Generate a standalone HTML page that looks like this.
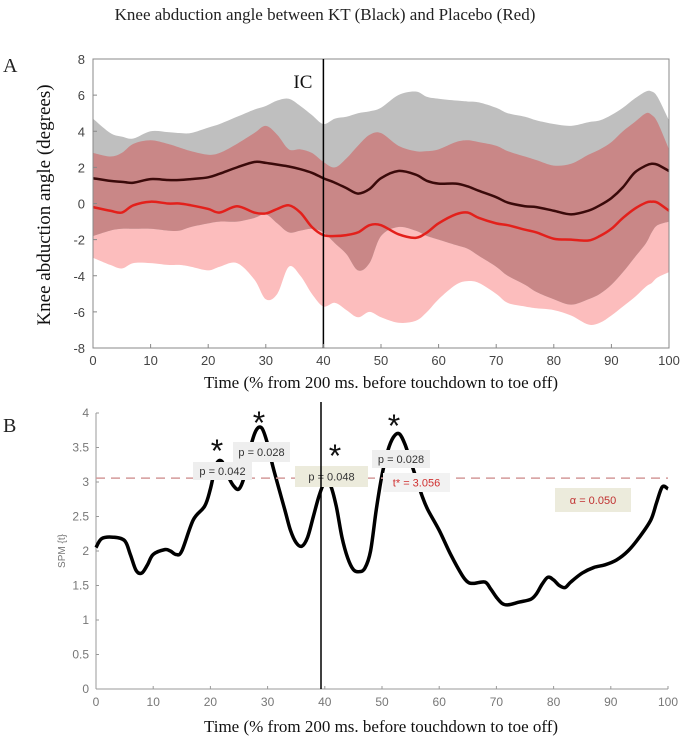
<!DOCTYPE html>
<html><head><meta charset="utf-8"><style>
body{margin:0;background:#fff;}
svg{display:block;font-family:"Liberation Sans",sans-serif;}
.serif{font-family:"Liberation Serif",serif;}
</style></head><body>
<svg id="c" width="685" height="743" viewBox="0 0 685 743">
<text class="serif" x="325" y="20" font-size="17" text-anchor="middle" fill="#222">Knee abduction angle between KT (Black) and Placebo (Red)</text>
<text class="serif" x="3" y="72" font-size="20" fill="#222">A</text>
<text class="serif" x="3" y="432" font-size="20" fill="#222">B</text>
<g id="ga"></g><g id="gb"></g>
</svg>
<script>
// Panel A data
const aX=[0,3,5,7,10,13,15,17,20,22,25,28,30,32,34,36,38,40,42,44,46,48,50,53,56,58,60,63,65,67,70,72,75,77,80,83,86,88,90,92,94,96,97,98,100];
const kMean=[1.4,1.25,1.2,1.15,1.35,1.3,1.3,1.35,1.45,1.65,2.0,2.3,2.25,2.15,2.05,1.9,1.7,1.4,1.15,0.85,0.55,0.8,1.4,1.8,1.6,1.25,1.1,1.1,0.95,0.7,0.35,0.05,-0.15,-0.2,-0.4,-0.6,-0.4,-0.1,0.3,0.9,1.7,2.1,2.2,2.15,1.8];
const pMean=[-0.2,-0.4,-0.5,-0.1,0.1,0,0,-0.1,-0.3,-0.5,-0.15,-0.5,-0.55,-0.3,-0.1,-0.5,-1.3,-1.75,-1.8,-1.75,-1.6,-1.2,-1.2,-1.7,-1.9,-1.6,-1.1,-0.6,-0.5,-0.8,-1.1,-1.2,-1.45,-1.6,-1.95,-2.0,-2.05,-1.8,-1.4,-0.8,-0.3,0.05,0.1,0.05,-0.4];
const kUpper=[4.7,3.9,3.7,3.6,4.0,3.95,3.9,3.9,4.2,4.4,4.8,5.2,5.4,5.7,5.8,5.4,4.9,4.4,4.7,4.8,5.0,5.1,5.3,6.0,6.2,5.9,5.8,5.7,5.65,5.6,5.3,5.0,4.8,4.6,4.4,4.3,4.5,4.6,4.9,5.3,5.8,6.2,6.2,5.9,4.6];
const kLower=[-1.8,-1.5,-1.4,-1.4,-1.4,-1.5,-1.5,-1.3,-1.1,-1.0,-1.0,-0.8,-0.6,-1.1,-1.6,-1.5,-1.4,-1.6,-2.2,-2.8,-3.7,-3.3,-1.8,-1.3,-1.5,-1.8,-2.0,-2.3,-2.5,-2.9,-3.5,-4.0,-4.5,-4.9,-5.3,-5.6,-5.3,-5.0,-4.5,-3.8,-3.0,-2.2,-1.6,-1.2,-1.0];
const pUpper=[2.8,2.6,2.8,3.3,3.5,3.3,3.1,2.9,2.7,2.8,3.3,3.9,4.3,3.8,3.0,3.0,2.8,2.3,2.0,2.5,3.2,3.8,3.9,3.2,2.9,2.9,3.0,3.4,3.5,3.4,3.2,2.9,2.6,2.4,2.1,2.2,2.7,3.0,3.4,4.0,4.5,5.0,4.9,4.5,3.0];
const pLower=[-3.0,-3.4,-3.6,-3.3,-3.3,-3.4,-3.4,-3.5,-3.7,-3.5,-3.3,-4.2,-5.3,-5.0,-3.5,-4.0,-5.0,-5.7,-5.5,-5.9,-6.3,-6.0,-6.3,-6.6,-6.5,-6.0,-5.3,-4.5,-4.3,-4.4,-5.0,-5.5,-5.7,-5.8,-5.9,-6.2,-6.7,-6.6,-6.2,-5.7,-5.2,-4.6,-4.4,-4.1,-3.8];
const aYTicks=[-8,-6,-4,-2,0,2,4,6,8];
const xTicks=[0,10,20,30,40,50,60,70,80,90,100];
// Panel B data
const bX=[0,1,3,5,6,7,8,9,10,12,13,14,15,17,19,20,21,22,23,24,25,26,27,28,29,30,31,33,34,35,36,37,38,39,40,41,42,43,44,45,46,47,48,49,50,51,52,53,54,55,56,57,58,60,62,64,65,66,68,69,70,71,72,74,76,77,78,79,80,81,82,83,85,87,89,91,93,95,97,98,99,100];
const spm=[2.05,2.18,2.2,2.15,1.95,1.72,1.68,1.8,1.95,2.02,2.0,1.95,2.0,2.45,2.65,2.9,3.25,3.3,3.1,2.95,2.9,3.1,3.5,3.75,3.78,3.55,3.2,2.6,2.3,2.12,2.07,2.2,2.5,2.8,3.0,2.95,2.65,2.2,1.9,1.73,1.7,1.75,2.0,2.6,3.1,3.45,3.65,3.7,3.55,3.3,3.05,2.8,2.6,2.3,1.95,1.65,1.55,1.53,1.55,1.45,1.33,1.24,1.22,1.26,1.3,1.38,1.52,1.62,1.58,1.5,1.47,1.55,1.68,1.76,1.8,1.87,2.0,2.2,2.45,2.7,2.93,2.9];
const bYTicks=[0,0.5,1,1.5,2,2.5,3,3.5,4];
const tStar=3.056;

const NS="http://www.w3.org/2000/svg";
function mk(parent,tag,attrs,name,txt){const e=document.createElementNS(NS,tag);for(const k in attrs)e.setAttribute(k,attrs[k]);


if(txt!==undefined)e.textContent=txt;parent.appendChild(e);return e;}
function smooth(pts){let d="M"+pts[0][0]+","+pts[0][1];for(let i=0;i<pts.length-1;i++){const p0=pts[i-1]||pts[i],p1=pts[i],p2=pts[i+1],p3=pts[i+2]||p2;
d+=" C"+(p1[0]+(p2[0]-p0[0])/6)+","+(p1[1]+(p2[1]-p0[1])/6)+" "+(p2[0]-(p3[0]-p1[0])/6)+","+(p2[1]-(p3[1]-p1[1])/6)+" "+p2[0]+","+p2[1];}return d;}
function band(xs,up,lo,X,Y){const u=xs.map((x,i)=>[X(x),Y(up[i])]);const l=xs.map((x,i)=>[X(x),Y(lo[i])]).reverse();
return smooth(u)+" L"+l[0][0]+","+l[0][1]+smooth(l).slice(smooth(l).indexOf(" C"))+" Z";}

// Panel A
const ga=document.getElementById('ga');
const aL=93,aR=669,aT=59,aB=348;
const XA=v=>aL+(aR-aL)*v/100, YA=v=>aB-(aB-aT)*(v+8)/16;
const defs=mk(ga,'defs',{},'defs');
const cp=mk(defs,'clipPath',{id:'kclip'},'k-band-clip');
mk(cp,'path',{d:band(aX,kUpper,kLower,XA,YA)},'k-band-clip-path');
mk(ga,'path',{d:band(aX,pUpper,pLower,XA,YA),fill:'#fcbdbd'},'placebo-sd-band');
mk(ga,'path',{d:band(aX,kUpper,kLower,XA,YA),fill:'#bfbfbf'},'kt-sd-band');
mk(ga,'path',{d:band(aX,pUpper,pLower,XA,YA),fill:'#c98787','clip-path':'url(#kclip)'},'overlap-band');
mk(ga,'path',{d:smooth(aX.map((x,i)=>[XA(x),YA(kMean[i])])),fill:'none',stroke:'#3a0a0a','stroke-width':2.5},'kt-mean-line');
mk(ga,'path',{d:smooth(aX.map((x,i)=>[XA(x),YA(pMean[i])])),fill:'none',stroke:'#e3201b','stroke-width':2.5},'placebo-mean-line');
mk(ga,'rect',{x:aL,y:aT,width:aR-aL,height:aB-aT,fill:'none',stroke:'#888','stroke-width':1},'panel-a-frame');
mk(ga,'line',{x1:XA(40),x2:XA(40),y1:aT,y2:aB,stroke:'#000','stroke-width':1.5},'ic-line');
mk(ga,'text',{x:XA(40)-30,y:88,'font-size':19,class:'serif',fill:'#111'},'ic-label','IC');
aYTicks.forEach(t=>{mk(ga,'text',{x:aL-8,y:YA(t)+5,'font-size':13,'text-anchor':'end',fill:'#444'},'y-tick-a',String(t));
mk(ga,'line',{x1:aL,x2:aL+4,y1:YA(t),y2:YA(t),stroke:'#888'},'y-tick-mark-a');});
xTicks.forEach(t=>{mk(ga,'text',{x:XA(t),y:aB+17,'font-size':13,'text-anchor':'middle',fill:'#444'},'x-tick-a',String(t));
mk(ga,'line',{x1:XA(t),x2:XA(t),y1:aB,y2:aB-4,stroke:'#888'},'x-tick-mark-a');});
mk(ga,'text',{x:0,y:0,'font-size':19,class:'serif','text-anchor':'middle',fill:'#111',transform:'translate(50,205) rotate(-90)'},'y-axis-title-a','Knee abduction angle (degrees)');
mk(ga,'text',{x:381,y:388,'font-size':17,class:'serif','text-anchor':'middle',fill:'#111'},'x-axis-title-a','Time (% from 200 ms. before touchdown to toe off)');

// Panel B
const gb=document.getElementById('gb');
const bL=96,bR=668,bT=413,bB=689;
const XB=v=>bL+(bR-bL)*v/100, YB=v=>bB-(bB-bT)*v/4;
mk(gb,'line',{x1:bL,x2:bL,y1:bT,y2:bB,stroke:'#999'},'y-axis-b');
mk(gb,'line',{x1:bL,x2:bR,y1:bB,y2:bB,stroke:'#999'},'x-axis-b');
bYTicks.forEach(t=>{mk(gb,'text',{x:bL-7,y:YB(t)+4,'font-size':12,'text-anchor':'end',fill:'#777'},'y-tick-b',String(t));
mk(gb,'line',{x1:bL,x2:bL+3,y1:YB(t),y2:YB(t),stroke:'#999'},'y-tick-mark-b');});
xTicks.forEach(t=>{mk(gb,'text',{x:XB(t),y:bB+17,'font-size':12,'text-anchor':'middle',fill:'#777'},'x-tick-b',String(t));
mk(gb,'line',{x1:XB(t),x2:XB(t),y1:bB,y2:bB-3,stroke:'#999'},'x-tick-mark-b');});
mk(gb,'text',{x:0,y:0,'font-size':10,'text-anchor':'middle',fill:'#777',transform:'translate(65,551) rotate(-90)'},'y-axis-title-b','SPM {t}');
mk(gb,'path',{d:smooth(bX.map((x,i)=>[XB(x),YB(spm[i])])),fill:'none',stroke:'#000','stroke-width':3.5,'stroke-linejoin':'round'},'spm-curve');
mk(gb,'line',{x1:bL,x2:bR,y1:YB(tStar),y2:YB(tStar),stroke:'#d49a9a','stroke-width':1.5,'stroke-dasharray':'9,6'},'threshold-line');
mk(gb,'line',{x1:321,x2:321,y1:402,y2:bB,stroke:'#000','stroke-width':1.5},'ic-line-b');
const boxes=[[193,462,59,18,'#eeeeee','#333','p = 0.042','p-label-1'],[233,442,57,20,'#eeeeee','#333','p = 0.028','p-label-2'],
[295,466,73,21,'#ecebdc','#333','p = 0.048','p-label-3'],[372,450,58,18,'#eeeeee','#333','p = 0.028','p-label-4'],
[383,473,67,19,'#f2f2f2','#d03030','t* = 3.056','threshold-label'],[555,488,76,24,'#ecebdc','#c03030','α = 0.050','alpha-label']];
boxes.forEach(b=>{mk(gb,'rect',{x:b[0],y:b[1],width:b[2],height:b[3],fill:b[4]},b[7]+'-box');
mk(gb,'text',{x:b[0]+b[2]/2,y:b[1]+b[3]/2+4,'font-size':11,'text-anchor':'middle',fill:b[5]},b[7],b[6]);});
mk(gb,'line',{x1:321,x2:321,y1:466,y2:487,stroke:'#000','stroke-width':1.5},'ic-line-b-over');
[[217,462],[259,434],[335,467],[394,437]].forEach(p=>mk(gb,'text',{x:p[0],y:p[1],'font-size':32,'text-anchor':'middle',fill:'#111'},'significance-asterisk','*'));
mk(gb,'text',{x:381,y:732,'font-size':17,class:'serif','text-anchor':'middle',fill:'#111'},'x-axis-title-b','Time (% from 200 ms. before touchdown to toe off)');
</script>
</body></html>
